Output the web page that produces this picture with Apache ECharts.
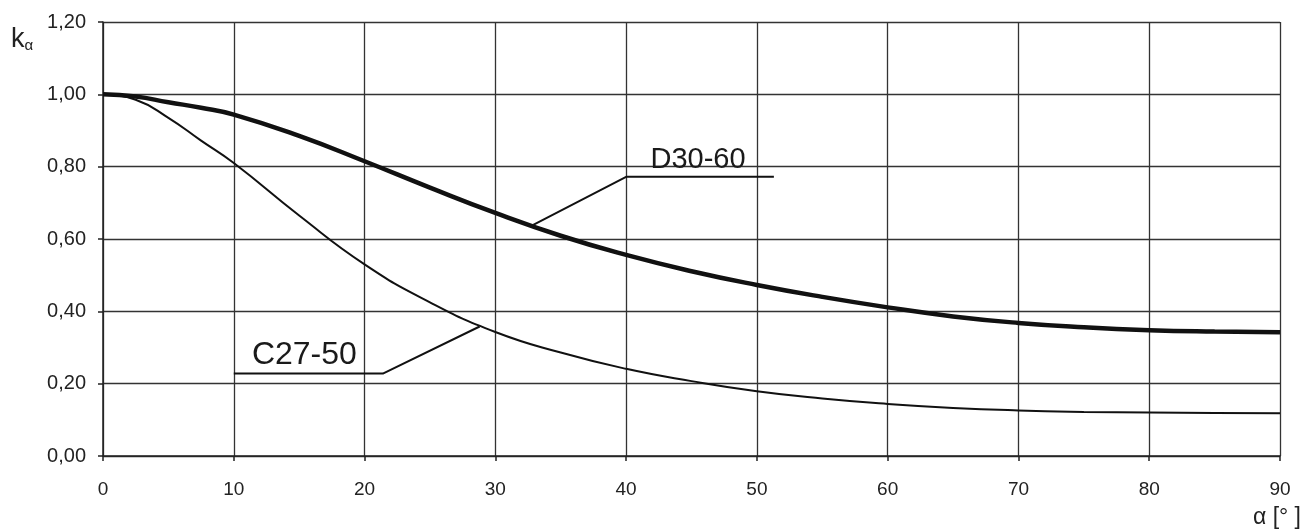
<!DOCTYPE html>
<html>
<head>
<meta charset="utf-8">
<script src="https://cdn.jsdelivr.net/npm/echarts@6/dist/echarts.min.js"></script>
<style>
  html, body { margin: 0; padding: 0; background: #fff; }
  #chart { width: 1304px; height: 531px; }
</style>
</head>
<body>
<div id="chart"></div>
<script>
// kąt alfa [°]
var alpha = [0, 2.5, 5, 7.5, 10, 15, 20, 25, 30, 35, 40, 45, 50, 55, 60, 65, 70, 75, 80, 85, 90];
// współczynnik k_alfa
var kD30 = [1.00, 0.994, 0.978, 0.963, 0.944, 0.885, 0.815, 0.742, 0.672, 0.609, 0.556, 0.511, 0.473, 0.440, 0.411, 0.386, 0.368, 0.356, 0.348, 0.344, 0.342];
var kC27 = [1.00, 0.985, 0.935, 0.872, 0.810, 0.665, 0.530, 0.425, 0.343, 0.286, 0.241, 0.207, 0.179, 0.159, 0.144, 0.133, 0.126, 0.122, 0.120, 0.119, 0.118];

// linie odniesienia opisów
var leaderD = [[32.9, 0.639], [40, 0.772], [51.3, 0.772]];
var leaderC = [[28.8, 0.358], [21.4, 0.228], [10, 0.228]];
var labelD = { text: 'D30-60', at: [45.5, 0.772] };
var labelC = { text: 'C27-50', at: [15.4, 0.228] };

var font = 'Liberation Sans, Arial, sans-serif';

function pairs(xs, ys) {
    var out = [];
    for (var i = 0; i < xs.length; i++) {
        out.push([xs[i], ys[i]]);
    }
    return out;
}

function leader(name, data, label, size) {
    return {
        name: name,
        type: 'line',
        data: data,
        symbol: 'none',
        silent: true,
        lineStyle: { color: '#111', width: 2 },
        markPoint: {
            symbol: 'circle',
            symbolSize: 0,
            silent: true,
            data: [{ coord: label.at }],
            label: {
                show: true,
                position: 'top',
                distance: 2,
                formatter: label.text,
                color: '#1a1a1a',
                fontFamily: font,
                fontSize: size
            }
        }
    };
}

var myChart = echarts.init(document.getElementById('chart'));

myChart.setOption({
    backgroundColor: '#fff',
    animation: false,
    grid: { left: 103, right: 24, top: 22, bottom: 75 },
    xAxis: {
        type: 'value',
        min: 0,
        max: 90,
        interval: 10,
        axisLine: { show: true, lineStyle: { color: '#222', width: 1.5 } },
        axisTick: { show: true, length: 5, lineStyle: { color: '#222', width: 1.5 } },
        splitLine: { show: true, lineStyle: { color: '#333', width: 1.3 } },
        axisLabel: { margin: 24, color: '#222', fontFamily: font, fontSize: 19 }
    },
    yAxis: {
        type: 'value',
        min: 0,
        max: 1.2,
        interval: 0.2,
        axisLine: { show: true, lineStyle: { color: '#222', width: 1.5 } },
        axisTick: { show: true, length: 5, lineStyle: { color: '#222', width: 1.5 } },
        splitLine: { show: true, lineStyle: { color: '#333', width: 1.3 } },
        axisLabel: {
            margin: 17,
            color: '#222',
            fontFamily: font,
            fontSize: 20,
            formatter: function (v) { return v.toFixed(2).replace('.', ','); }
        }
    },
    graphic: [
        {
            type: 'text',
            left: 11,
            top: 26,
            style: {
                text: '{k|k}{a|α}',
                rich: {
                    k: { fontFamily: font, fontSize: 27, fill: '#222' },
                    a: { fontFamily: font, fontSize: 15, fill: '#222', padding: [12, 0, 0, 0] }
                }
            }
        },
        {
            type: 'text',
            right: 3,
            top: 506,
            style: { text: 'α [° ]', fontFamily: font, fontSize: 23, fill: '#222' }
        }
    ],
    series: [
        {
            name: 'D30-60',
            type: 'line',
            data: pairs(alpha, kD30),
            smooth: 0.5,
            symbol: 'none',
            lineStyle: { color: '#111', width: 4.5 }
        },
        {
            name: 'C27-50',
            type: 'line',
            data: pairs(alpha, kC27),
            smooth: 0.5,
            symbol: 'none',
            lineStyle: { color: '#111', width: 2 }
        },
        leader('D30-60 opis', leaderD, labelD, 29),
        leader('C27-50 opis', leaderC, labelC, 32)
    ]
});
</script>
</body>
</html>
